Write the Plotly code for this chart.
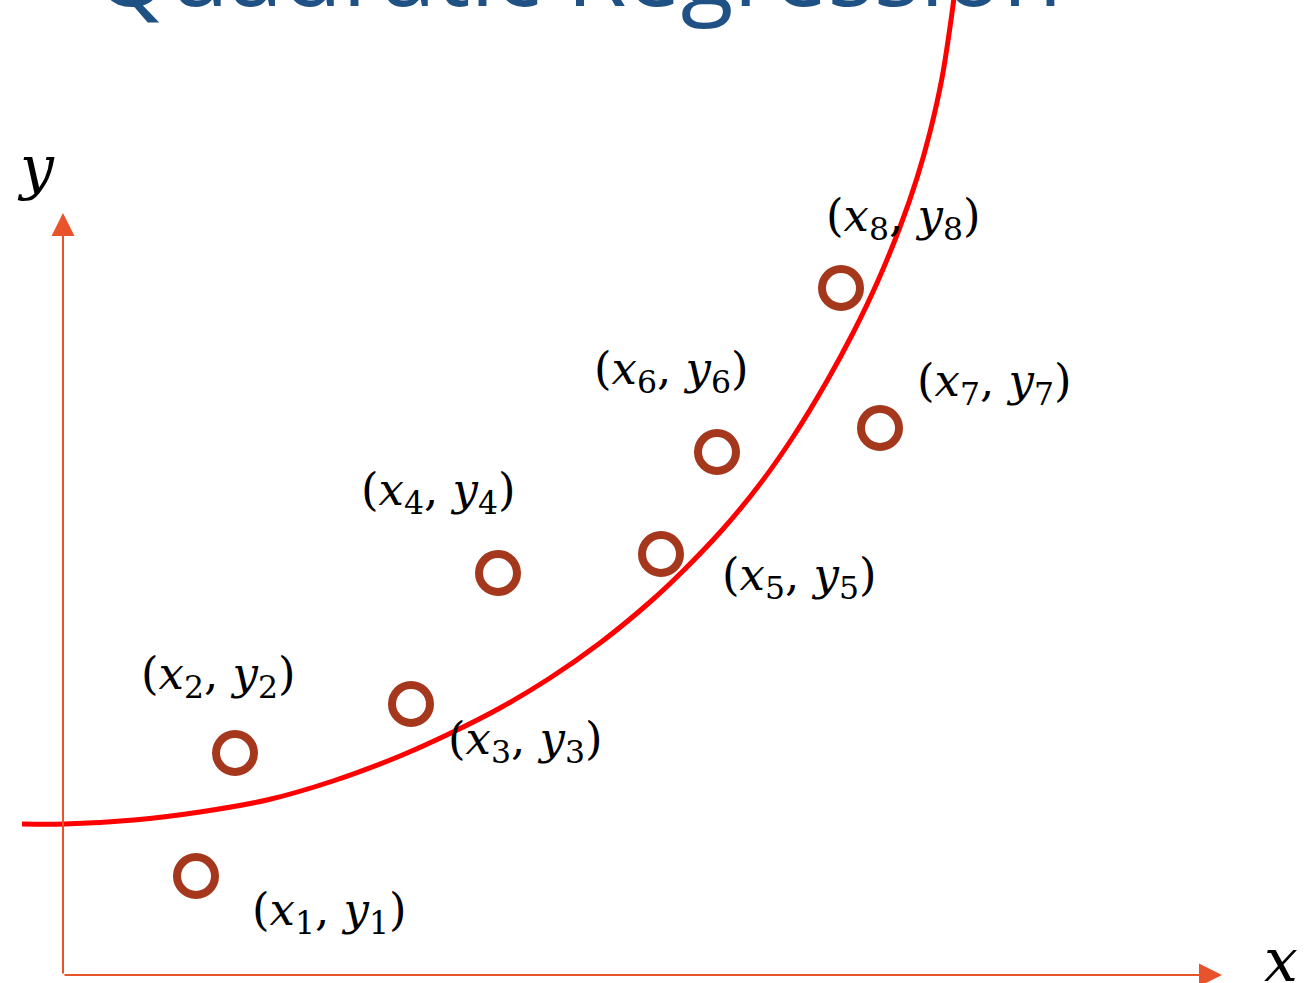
import plotly.graph_objects as go

# ---- data (units: origin at the axes corner) ----
point_x = [133, 172, 348, 435, 598, 654, 817, 778]
point_y = [99, 222, 271, 402, 421, 523, 547, 687]
point_labels = ["(<i>x</i><sub>%d</sub>, <i>y</i><sub>%d</sub>)" % (i, i) for i in range(1, 9)]

curve_x = [-41, 1, 71, 137, 204, 270, 337, 390, 437, 487, 537, 587, 620, 660,
           697, 730, 764, 790, 814, 837, 854, 867, 879, 889, 892]
curve_y = [151, 151, 155, 163, 175, 194, 219, 243, 267, 297, 332, 373, 404, 446,
           491, 538, 594, 642, 692, 748, 797, 843, 897, 962, 986]

title_text = "Quadratic Regression"

# ---- style ----
W, H = 1307, 983
X0, Y0 = 63, 975           # pixel position of axes corner
AXIS_COLOR = "#E8532B"
POINT_COLOR = "#A4371C"
CURVE_COLOR = "#FF0000"
TITLE_COLOR = "#1F5185"
label_offsets = [(133, -36), (-17, 77), (114, -37), (-60, 81),
                 (138, -23), (-46, 81), (114, 45), (62, 70)]

fig = go.Figure()

fig.add_trace(go.Scatter(
    x=curve_x, y=curve_y, mode="lines",
    line=dict(color=CURVE_COLOR, width=5, shape="spline", smoothing=0.8),
    hoverinfo="skip", showlegend=False))

fig.add_trace(go.Scatter(
    x=point_x, y=point_y, mode="markers",
    marker=dict(symbol="circle-open", size=38, color=POINT_COLOR,
                line=dict(width=8, color=POINT_COLOR)),
    showlegend=False))

annotations = []
for px, py, lab, (dx, dy) in zip(point_x, point_y, point_labels, label_offsets):
    annotations.append(dict(
        x=px, y=py, xref="x", yref="y", text=lab, showarrow=False,
        xshift=dx, yshift=dy, xanchor="center", yanchor="middle",
        font=dict(family="DejaVu Serif", size=45, color="#000000")))

# axis arrows
annotations.append(dict(x=1159, y=0, ax=0, ay=0, xref="x", yref="y", axref="x", ayref="y",
                        text="", showarrow=True, arrowhead=2, arrowsize=2.3,
                        arrowwidth=2, arrowcolor=AXIS_COLOR, standoff=0, startstandoff=0))
annotations.append(dict(x=0, y=762, ax=0, ay=0, xref="x", yref="y", axref="x", ayref="y",
                        text="", showarrow=True, arrowhead=2, arrowsize=2.3,
                        arrowwidth=2, arrowcolor=AXIS_COLOR, standoff=0, startstandoff=0))
# axis names
annotations.append(dict(x=1218, y=15, xref="x", yref="y", text="<i>x</i>", showarrow=False,
                        xanchor="center", yanchor="middle",
                        font=dict(family="DejaVu Serif", size=60, color="#000000")))
annotations.append(dict(x=-27, y=808, xref="x", yref="y", text="<i>y</i>", showarrow=False,
                        xanchor="center", yanchor="middle",
                        font=dict(family="DejaVu Serif", size=60, color="#000000")))
# title (cut off at the top)
annotations.append(dict(x=92 / W, y=1 - 36 / H, xref="paper", yref="paper", text=title_text,
                        showarrow=False, xanchor="left", yanchor="bottom",
                        font=dict(family="Open Sans", size=97, color=TITLE_COLOR)))

fig.update_layout(
    width=W, height=H, autosize=False,
    margin=dict(l=0, r=0, t=0, b=0, pad=0),
    paper_bgcolor="white", plot_bgcolor="white",
    xaxis=dict(range=[-X0, W - X0], visible=False, fixedrange=True),
    yaxis=dict(range=[Y0 - H, Y0], visible=False, fixedrange=True),
    annotations=annotations,
    showlegend=False,
)

fig.write_html("out.html", post_script="document.body.style.margin='0';document.body.style.overflow='hidden';",
               config={"displayModeBar": False})
